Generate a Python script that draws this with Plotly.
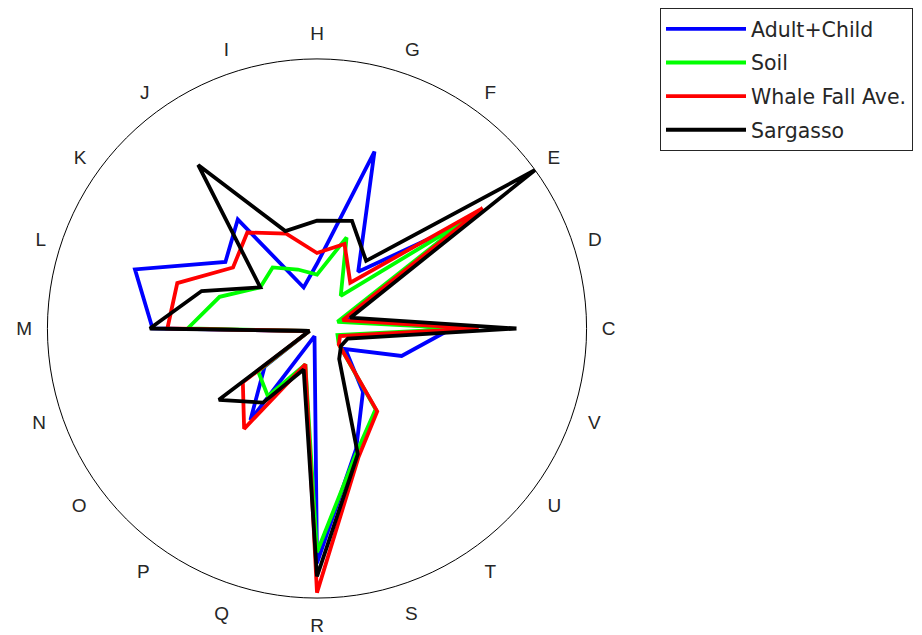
import plotly.graph_objects as go

categories = ["C", "D", "E", "F", "G", "H", "I", "J", "K", "L",
              "M", "N", "O", "P", "Q", "R", "S", "T", "U", "V"]

adult_child = [0.50, 0.11, 0.66, 0.26, 0.69, 0.24, 0.16, 0.50, 0.42, 0.71,
               0.61, 0.03, 0.24, 0.42, 0.03, 0.87, 0.47, 0.29, 0.13, 0.33]
soil        = [0.56, 0.08, 0.68, 0.15, 0.355, 0.20, 0.23, 0.28, 0.26, 0.38,
               0.48, 0.03, 0.27, 0.31, 0.14, 0.83, 0.48, 0.37, 0.10, 0.08]
whale_fall  = [0.60, 0.10, 0.76, 0.21, 0.33, 0.28, 0.37, 0.44, 0.385, 0.545,
               0.555, 0.03, 0.34, 0.46, 0.14, 0.98, 0.50, 0.38, 0.10, 0.09]
sargasso    = [0.74, 0.13, 1.00, 0.31, 0.42, 0.40, 0.38, 0.75, 0.26, 0.45,
               0.62, 0.03, 0.45, 0.34, 0.16, 0.92, 0.49, 0.14, 0.11, 0.12]

series = [
    ("Adult+Child", adult_child, "#0000FF"),
    ("Soil", soil, "#00FF00"),
    ("Whale Fall Ave.", whale_fall, "#FF0000"),
    ("Sargasso", sargasso, "#000000"),
]

fig = go.Figure()
for i, (name, vals, color) in enumerate(series):
    fig.add_trace(go.Scatterpolar(
        r=vals + vals[:1],
        theta=categories + categories[:1],
        mode="lines",
        name=name,
        legendgroup=f"g{i}",
        line=dict(color=color, width=3.8),
    ))

W, H = 922, 635
# compensate an observed 8px offset of the polar frame
cx, cy, R = 309, 320, 270
fig.update_layout(
    width=W, height=H,
    margin=dict(l=0, r=0, t=0, b=0),
    paper_bgcolor="white",
    font=dict(family="Liberation Sans, Arial, sans-serif", color="#262626"),
    polar=dict(
        domain=dict(x=[(cx - R) / W, (cx + R) / W],
                    y=[(H - cy - R) / H, (H - cy + R) / H]),
        bgcolor="white",
        angularaxis=dict(
            type="category",
            categoryorder="array",
            categoryarray=categories,
            direction="counterclockwise",
            rotation=0,
            showgrid=False,
            showline=True,
            linecolor="black",
            linewidth=1,
            ticks="outside",
            ticklen=11,
            tickcolor="rgba(0,0,0,0)",
            tickfont=dict(size=19, color="#262626"),
        ),
        radialaxis=dict(visible=False, range=[0, 1]),
    ),
    legend=dict(
        x=652 / W, y=(H + 1) / H,
        xanchor="left", yanchor="top",
        bgcolor="white",
        bordercolor="#262626",
        borderwidth=1,
        font=dict(family="DejaVu Sans, sans-serif", size=20.5, color="#262626"),
        itemwidth=80,
        tracegroupgap=4,
    ),
)

fig.write_html("out.html")
